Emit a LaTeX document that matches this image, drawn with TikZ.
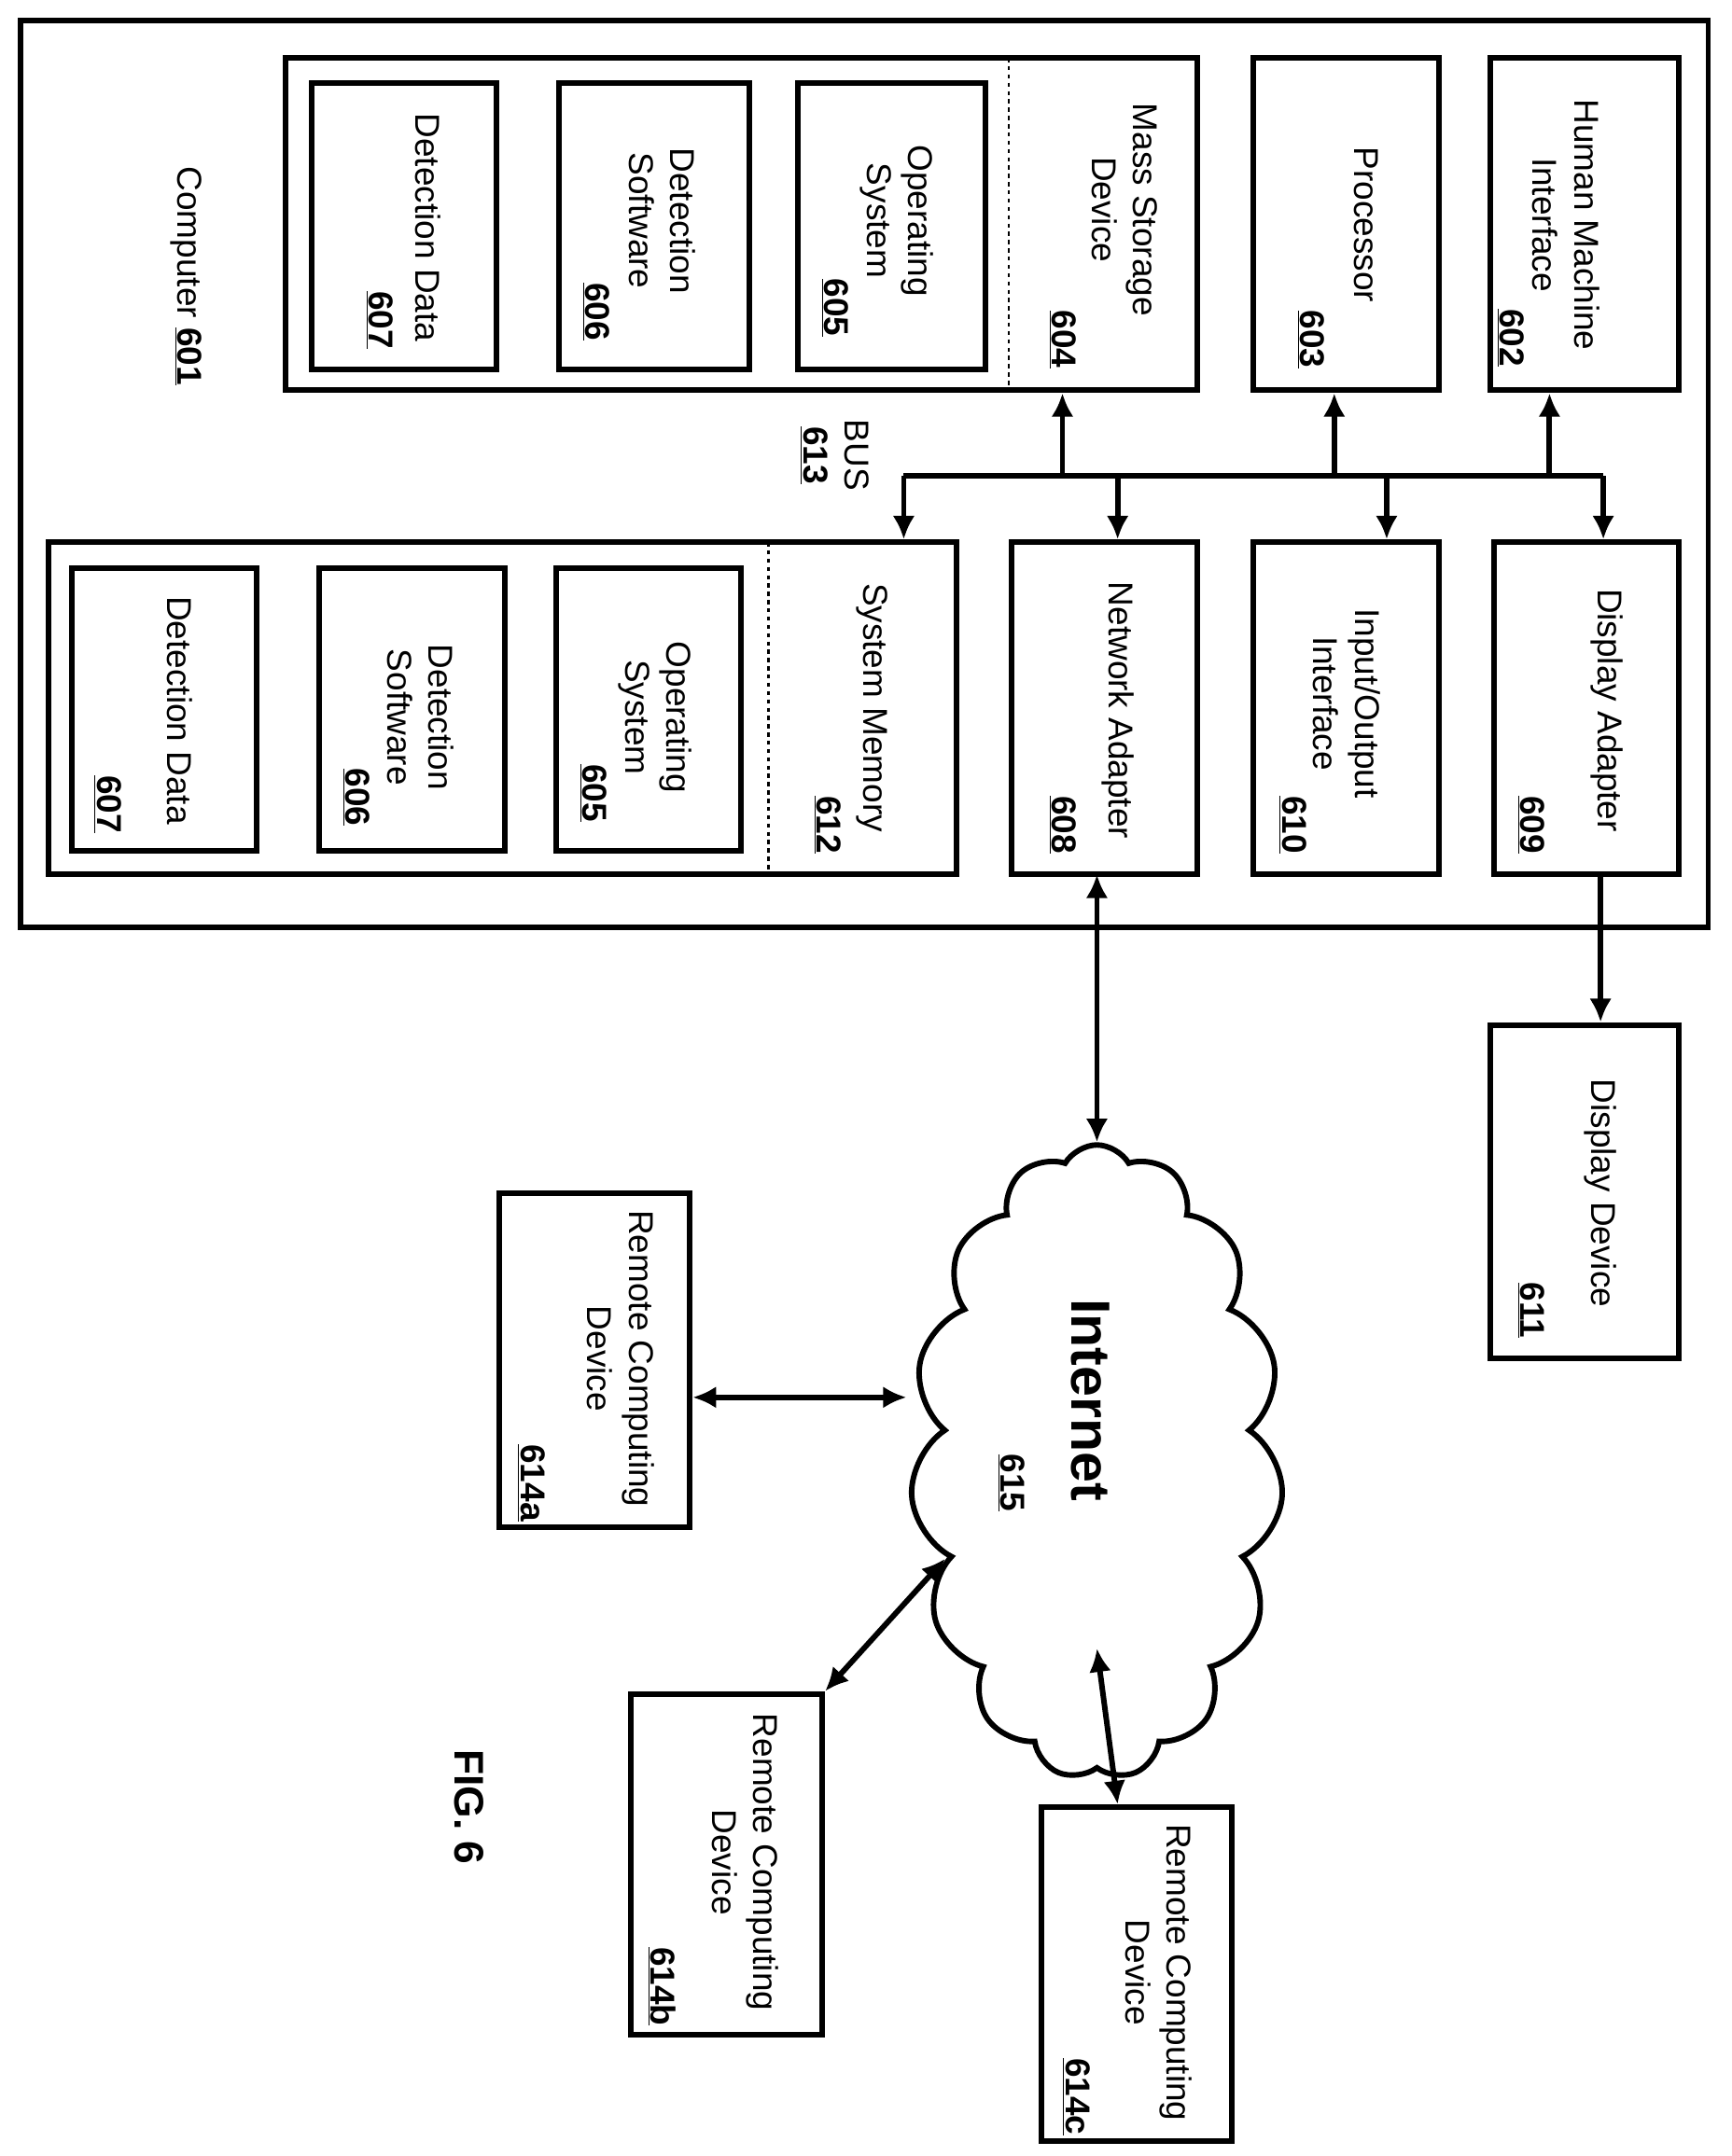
\documentclass[tikz,border=0pt]{standalone}
\usepackage{fontspec}
\setmainfont{Liberation Sans}
\usetikzlibrary{shapes.symbols,arrows.meta}
\begin{document}
\begin{tikzpicture}[x=1pt,y=-1pt,
  box/.style={draw,line width=4pt,inner sep=0pt},
  lbl/.style={rotate=-90,align=center,font=\fontsize{25}{30}\selectfont,inner sep=0pt},
  num/.style={rotate=-90,font=\fontsize{25}{30}\selectfont\bfseries,inner sep=0pt},
  arr/.style={line width=4pt,-{Latex[length=17pt,width=16pt]}},
  darr/.style={line width=4pt,{Latex[length=17pt,width=16pt]}-{Latex[length=17pt,width=16pt]}}]
\useasboundingbox (0,0) rectangle (1255,1563);
% computer
\node[box,minimum width=1223pt,minimum height=657pt] (c601) at (626.5,343.5) {};
\node[lbl] (t601) at (135,200) {Computer \textbf{\underline{601}}};
% mass storage
\node[box,minimum width=661pt,minimum height=241pt] (m604) at (537.5,162.5) {};
\draw[dashed,line width=1.5pt] (731,42) -- (731,283);
\node[lbl] at (815,152) {Mass Storage\\Device};
\node[num] at (770,246) {\underline{604}};
\node[box,minimum width=134pt,minimum height=208pt] (a607) at (293,164) {};
\node[lbl] at (310,165) {Detection Data};
\node[num] at (275,232) {\underline{607}};
\node[box,minimum width=138pt,minimum height=208pt] (a606) at (474,164) {};
\node[lbl] at (480,160) {Detection\\Software};
\node[num] at (432,226) {\underline{606}};
\node[box,minimum width=136pt,minimum height=208pt] (a605) at (646,164) {};
\node[lbl] at (650,160) {Operating\\System};
\node[num] at (605,223) {\underline{605}};
% processor, HMI
\node[box,minimum width=135pt,minimum height=241pt] (p603) at (975.5,162.5) {};
\node[lbl] at (990,163) {Processor};
\node[num] at (950,246) {\underline{603}};
\node[box,minimum width=137pt,minimum height=241pt] (h602) at (1148.5,162.5) {};
\node[lbl] at (1135,163) {Human Machine\\Interface};
\node[num] at (1095,245) {\underline{602}};
% system memory
\node[box,minimum width=658pt,minimum height=241pt] (s612) at (364,513.5) {};
\draw[dashed,line width=1.5pt] (557,393) -- (557,634);
\node[lbl] at (632,513) {System Memory};
\node[num] at (600,598) {\underline{612}};
\node[box,minimum width=134pt,minimum height=205pt] (b607) at (119,514.5) {};
\node[lbl] at (130,515) {Detection Data};
\node[num] at (78,583) {\underline{607}};
\node[box,minimum width=135pt,minimum height=205pt] (b606) at (298.5,514.5) {};
\node[lbl] at (305,520) {Detection\\Software};
\node[num] at (258,578) {\underline{606}};
\node[box,minimum width=134pt,minimum height=205pt] (b605) at (470,514.5) {};
\node[lbl] at (475,520) {Operating\\System};
\node[num] at (430,575) {\underline{605}};
% adapters
\node[box,minimum width=135pt,minimum height=241pt] (n608) at (800.5,513.5) {};
\node[lbl] at (810,515) {Network Adapter};
\node[num] at (770,598) {\underline{608}};
\node[box,minimum width=135pt,minimum height=241pt] (i610) at (975.5,513.5) {};
\node[lbl] at (976,510) {Input/Output\\Interface};
\node[num] at (937,598) {\underline{610}};
\node[box,minimum width=134pt,minimum height=241pt] (d609) at (1150,513.5) {};
\node[lbl] at (1165,515) {Display Adapter};
\node[num] at (1110,598) {\underline{609}};
% bus
\coordinate (bL) at (655,345); \coordinate (bR) at (1162,345);
\draw[line width=4pt] (bL) -- (bR);
\node[lbl] at (605,330) {BUS\\\textbf{\underline{613}}};
\coordinate (u1) at (770,345); \coordinate (u2) at (967,345); \coordinate (u3) at (1123,345);
\coordinate (d1) at (810,345); \coordinate (d2) at (1005,345);
\draw[arr] (u1) -- (u1 |- m604.south);
\draw[arr] (u2) -- (u2 |- p603.south);
\draw[arr] (u3) -- (u3 |- h602.south);
\draw[arr] (bL) -- (bL |- s612.north);
\draw[arr] (d1) -- (d1 |- n608.north);
\draw[arr] (d2) -- (d2 |- i610.north);
\draw[arr] (bR) -- (bR |- d609.north);
% display device
\node[box,minimum width=137pt,minimum height=242pt] (d611) at (1148.5,864) {};
\node[lbl] at (1160,865) {Display Device};
\node[num] at (1110,950) {\underline{611}};
\coordinate (dd) at (1160,634);
\draw[arr] (dd) -- (dd |- d611.north);
% internet
\node[cloud,draw,line width=4pt,cloud puffs=15,cloud puff arc=120,cloud ignores aspect,
  minimum width=270pt,minimum height=460pt] (net) at (795,1060) {};
\node[lbl,font=\fontsize{40}{48}\selectfont\bfseries] at (790,1015) {Internet};
\node[num] at (733,1075) {\underline{615}};
\coordinate (na) at (795,634);
\draw[darr] (na) -- (795,828);
% remote devices
\node[box,minimum width=138pt,minimum height=242pt] (r614a) at (431,986) {};
\node[lbl] at (450,985) {Remote Computing\\Device};
\node[num] at (385,1075) {\underline{614a}};
\node[box,minimum width=139pt,minimum height=247pt] (r614b) at (526.5,1351.5) {};
\node[lbl] at (540,1350) {Remote Computing\\Device};
\node[num] at (480,1440) {\underline{614b}};
\node[box,minimum width=138pt,minimum height=242pt] (r614c) at (824,1431) {};
\node[lbl] at (840,1430) {Remote Computing\\Device};
\node[num] at (780,1520) {\underline{614c}};
\draw[darr] (r614a.east |- 0,1013) -- (657,1013);
\draw[darr] (598,1226) -- (685,1130);
\draw[darr] (795,1195) -- (810,1308);
\node[lbl,font=\fontsize{30}{36}\selectfont\bfseries] (fig) at (340,1310) {FIG. 6};
\end{tikzpicture}
\end{document}
